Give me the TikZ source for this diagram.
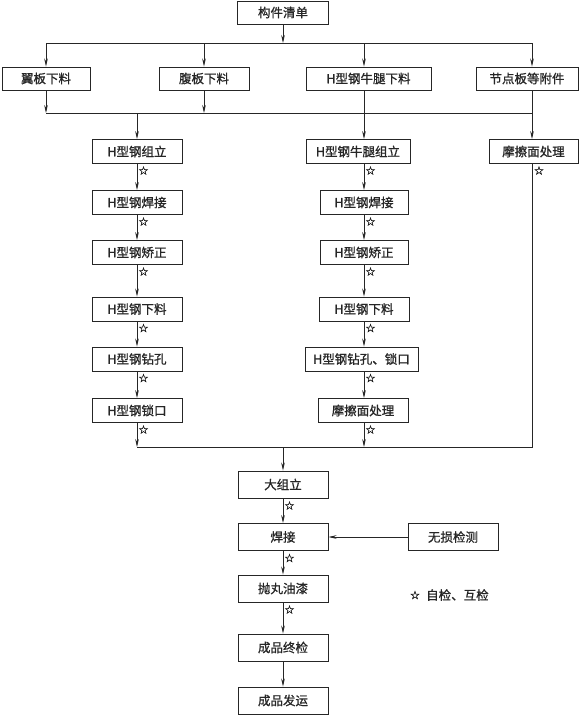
\documentclass[tikz,border=0pt]{standalone}
\usepackage{fontspec}
\newfontfamily\cjk[FakeBold=1]{Noto Sans CJK SC}
\newfontfamily\symf[FakeBold=1.5]{DejaVu Sans}
\usetikzlibrary{arrows.meta}
\begin{document}
\begin{tikzpicture}[x=1pt,y=-1pt,
  box/.style={draw=black!85, line width=0.9pt, minimum height=24pt, inner sep=0pt,
    font=\cjk\fontsize{12.5}{14}\selectfont, text=black!85},
  conn/.style={line width=0.7pt, draw=black!85},
  arr/.style={conn, -{Stealth[length=8pt,width=3.6pt]}},
  chk/.style={font=\symf\fontsize{11.5}{12}\selectfont, inner sep=0pt, text=black!90},
  lbl/.style={font=\cjk\fontsize{12.5}{14}\selectfont, inner sep=0pt, text=black!85}]
\useasboundingbox (0,0) rectangle (579,715);

% top
\node[box, minimum width=91pt, minimum height=23pt] (list) at (283,12.5) {构件清单};
% row 1
\node[box, minimum width=88pt, minimum height=23pt] (yiban) at (46,78.5) {翼板下料};
\node[box, minimum width=90pt, minimum height=23pt] (fuban) at (204,78.5) {腹板下料};
\node[box, minimum width=125pt, minimum height=23pt] (niutui) at (368.5,78.5) {H型钢牛腿下料};
\node[box, minimum width=102pt, minimum height=23pt] (jiedian) at (527,78.5) {节点板等附件};

\coordinate (c2) at (364,0);
\coordinate (busL) at (46,43);
\coordinate (busR) at (532,43);
\coordinate (b2L) at (46,113);
\coordinate (b2R) at (532,113);
\coordinate (b3L) at (137,447);
\coordinate (b3M) at (283,447);
\coordinate (b3R) at (532,447);

% left column
\node[box, minimum width=90pt] (l1) at (137,151.5) {H型钢组立};
\node[box, minimum width=90pt] (l2) at (137,202.5) {H型钢焊接};
\node[box, minimum width=90pt] (l3) at (137,252.5) {H型钢矫正};
\node[box, minimum width=90pt] (l4) at (137,309) {H型钢下料};
\node[box, minimum width=90pt] (l5) at (137,359) {H型钢钻孔};
\node[box, minimum width=90pt] (l6) at (137,410.5) {H型钢锁口};
% middle column
\node[box, minimum width=104pt] (m1) at (358,151.5) {H型钢牛腿组立};
\node[box, minimum width=88pt] (m2) at (364,202.5) {H型钢焊接};
\node[box, minimum width=88pt] (m3) at (364,252.5) {H型钢矫正};
\node[box, minimum width=90pt] (m4) at (364,309) {H型钢下料};
\node[box, minimum width=113pt] (m5) at (361.5,359) {H型钢钻孔、锁口};
\node[box, minimum width=90pt] (m6) at (363,410.5) {摩擦面处理};
% right column
\node[box, minimum width=89pt] (r1) at (533.5,151.5) {摩擦面处理};
% bottom
\node[box, minimum width=90pt, minimum height=27pt] (d1) at (283,484.5) {大组立};
\node[box, minimum width=90pt, minimum height=27pt] (d2) at (283,537) {焊接};
\node[box, minimum width=90pt, minimum height=27pt] (ndt) at (453,537) {无损检测};
\node[box, minimum width=90pt, minimum height=27pt] (d3) at (283,588.5) {抛丸油漆};
\node[box, minimum width=90pt, minimum height=27pt] (d4) at (283,647.5) {成品终检};
\node[box, minimum width=90pt, minimum height=27pt] (d5) at (283,700.5) {成品发运};

% top connectors
\draw[arr] (list.south) -- (list.south |- busL);
\draw[conn] (busL) -- (busR);
\draw[arr] (busL) -- (yiban.north);
\draw[arr] (fuban.north |- busL) -- (fuban.north);
\draw[arr] (c2 |- busL) -- (c2 |- niutui.north);
\draw[arr] (busR) -- (busR |- jiedian.north);
\draw[arr] (yiban.south) -- (b2L);
\draw[arr] (fuban.south) -- (fuban.south |- b2L);
\draw[conn] (b2L) -- (b2R);
\draw[conn] (b2R |- jiedian.south) -- (b2R);
\draw[arr] (l1.north |- b2L) -- (l1.north);
\draw[arr] (c2 |- niutui.south) -- (c2 |- m1.north);
\draw[arr] (b2R) -- (b2R |- r1.north);

% left chain
\draw[arr] (l1) -- (l2);
\draw[arr] (l2) -- (l3);
\draw[arr] (l3) -- (l4);
\draw[arr] (l4) -- (l5);
\draw[arr] (l5) -- (l6);
\draw[arr] (l6.south) -- (b3L);
% middle chain
\draw[arr] (c2 |- m1.south) -- (c2 |- m2.north);
\draw[arr] (c2 |- m2.south) -- (c2 |- m3.north);
\draw[arr] (c2 |- m3.south) -- (c2 |- m4.north);
\draw[arr] (c2 |- m4.south) -- (c2 |- m5.north);
\draw[arr] (c2 |- m5.south) -- (c2 |- m6.north);
\draw[arr] (c2 |- m6.south) -- (c2 |- b3L);
% right
\draw[conn] (b3R |- r1.south) -- (b3R) -- (b3L);
% bottom chain
\draw[arr] (b3M) -- (d1.north);
\draw[arr] (d1) -- (d2);
\draw[arr] (d2) -- (d3);
\draw[arr] (d3) -- (d4);
\draw[arr] (d4) -- (d5);
\draw[arr] (ndt) -- (d2);

% check stars
\node[chk] (s1) at (143.5,170.5) {☆};
\node[chk] (s2) at (143.5,221.5) {☆};
\node[chk] (s3) at (143.5,271.5) {☆};
\node[chk] (s4) at (143.5,328) {☆};
\node[chk] (s5) at (143.5,378) {☆};
\node[chk] (s6) at (143.5,429.5) {☆};
\node[chk] (t1) at (370.5,170.5) {☆};
\node[chk] (t2) at (370.5,221.5) {☆};
\node[chk] (t3) at (370.5,271.5) {☆};
\node[chk] (t4) at (370.5,328) {☆};
\node[chk] (t5) at (370.5,378) {☆};
\node[chk] (t6) at (370.5,429.5) {☆};
\node[chk] (u1) at (539,170.5) {☆};
\node[chk] (v1) at (289.5,505.5) {☆};
\node[chk] (v2) at (289.5,558) {☆};
\node[chk] (v3) at (289.5,609.5) {☆};

% legend
\node[chk] (lgs) at (415,595) {☆};
\node[lbl, anchor=west] (lgt) at (426,595) {自检、互检};
\end{tikzpicture}
\end{document}
